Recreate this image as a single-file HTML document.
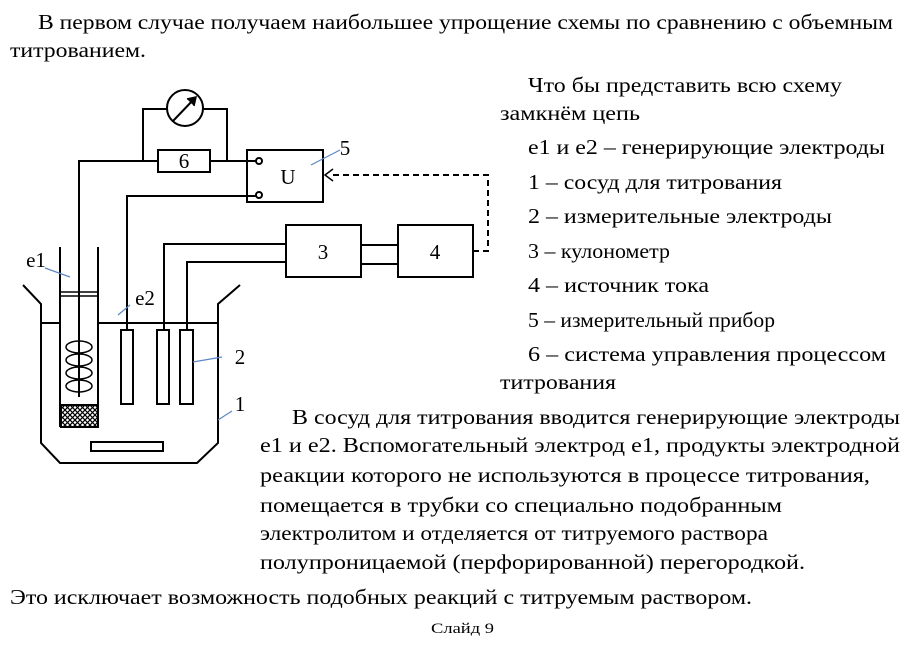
<!DOCTYPE html>
<html><head><meta charset="utf-8"><style>
body{margin:0;width:918px;height:649px;background:#fff;position:relative;overflow:hidden}
svg{position:absolute;left:0;top:0}
</style></head><body>
<svg width="918" height="649" viewBox="0 0 918 649">
<g fill="none" stroke="#000" stroke-width="2">
<circle cx="185" cy="108" r="18"/>
<line x1="173" y1="121" x2="195" y2="98"/>
<polyline points="187,99 196,97 194,106" fill="#000" stroke-width="1.5"/>
<polyline points="167,109 143,109 143,161"/><polyline points="203,109 227,109 227,161"/>
<rect x="158" y="150" width="52" height="22"/>
<polyline points="79,397 79,161 158,161"/>
<line x1="210" y1="161" x2="256" y2="161"/>
<rect x="247" y="150" width="76" height="52"/>
<circle cx="259" cy="161" r="3" fill="#fff"/><circle cx="259" cy="195" r="3" fill="#fff"/>
<polyline points="127,330 127,196 256,196"/>
<rect x="121" y="330" width="12" height="74"/>
<rect x="157" y="330" width="12" height="74"/>
<rect x="180" y="330" width="13" height="74"/>
<polyline points="164,330 164,244 286,244"/>
<polyline points="187,330 187,262 286,262"/>
<rect x="286" y="225" width="75" height="52"/>
<rect x="398" y="225" width="75" height="52"/>
<line x1="361" y1="245" x2="398" y2="245"/><line x1="361" y1="264" x2="398" y2="264"/>
<polyline points="473,251 488,251 488,175 330,175" stroke-dasharray="6,4"/>
<polyline points="333,169 325,175 333,181" stroke-width="1.5"/>
<polyline points="23,285 41,304 41,443 60,463 197,463 218,443 218,304 240,285"/>
<line x1="41" y1="323" x2="59" y2="323"/><line x1="98" y1="323" x2="218" y2="323"/>
<line x1="60" y1="247" x2="60" y2="427"/><line x1="98" y1="247" x2="98" y2="427"/>
<line x1="60" y1="292" x2="98" y2="292" stroke-width="1.5"/><line x1="60" y1="296" x2="98" y2="296" stroke-width="1.5"/>
<rect x="91" y="442" width="72" height="9"/>
<g stroke-width="1.5"><ellipse cx="79" cy="347" rx="13" ry="6"/><ellipse cx="79" cy="360" rx="13" ry="6"/><ellipse cx="79" cy="373" rx="13" ry="6"/><ellipse cx="79" cy="386" rx="13" ry="6"/></g>
</g>
<defs><pattern id="h" width="5" height="5" patternUnits="userSpaceOnUse"><path d="M0 0L5 5M5 0L0 5" stroke="#000" stroke-width="1.2"/></pattern></defs>
<rect x="61" y="405" width="37" height="22" fill="url(#h)" stroke="#000" stroke-width="2"/>
<g stroke="#5b87c5" stroke-width="1.2">
<line x1="45" y1="268" x2="70" y2="277"/><line x1="118" y1="315" x2="130" y2="305"/>
<line x1="193" y1="362" x2="222" y2="357"/><line x1="218" y1="420" x2="232" y2="411"/>
<line x1="311" y1="165" x2="340" y2="150"/>
</g>
<g font-family="Liberation Serif,serif" font-size="21" text-anchor="middle">
<text x="184" y="168">6</text><text x="288" y="184">U</text><text x="323" y="259">3</text><text x="435" y="259">4</text>
<text x="345" y="155">5</text><text x="36" y="267">e1</text><text x="145" y="305">e2</text>
<text x="240" y="364">2</text><text x="240" y="411">1</text>
</g>
<g font-family="Liberation Serif,serif" font-size="21" lengthAdjust="spacingAndGlyphs">
<text x="38" y="29" textLength="855" lengthAdjust="spacingAndGlyphs">В первом случае получаем наибольшее упрощение схемы по сравнению с объемным</text>
<text x="10" y="57" textLength="136" lengthAdjust="spacingAndGlyphs">титрованием.</text>
<text x="528" y="92" textLength="314" lengthAdjust="spacingAndGlyphs">Что бы представить всю схему</text>
<text x="500" y="120" textLength="140" lengthAdjust="spacingAndGlyphs">замкнём цепь</text>
<text x="528" y="154" textLength="357" lengthAdjust="spacingAndGlyphs">e1 и e2 – генерирующие электроды</text>
<text x="528" y="189" textLength="254" lengthAdjust="spacingAndGlyphs">1 – сосуд для титрования</text>
<text x="528" y="223" textLength="304" lengthAdjust="spacingAndGlyphs">2 – измерительные электроды</text>
<text x="528" y="258" textLength="142" lengthAdjust="spacingAndGlyphs">3 – кулонометр</text>
<text x="528" y="292" textLength="181" lengthAdjust="spacingAndGlyphs">4 – источник тока</text>
<text x="528" y="327" textLength="247" lengthAdjust="spacingAndGlyphs">5 – измерительный прибор</text>
<text x="528" y="361" textLength="358" lengthAdjust="spacingAndGlyphs">6 – система управления процессом</text>
<text x="500" y="389" textLength="116" lengthAdjust="spacingAndGlyphs">титрования</text>
<text x="292" y="424" textLength="608" lengthAdjust="spacingAndGlyphs">В сосуд для титрования вводится генерирующие электроды</text>
<text x="260" y="452" textLength="640" lengthAdjust="spacingAndGlyphs">e1 и e2. Вспомогательный электрод e1, продукты электродной</text>
<text x="260" y="482" textLength="610" lengthAdjust="spacingAndGlyphs">реакции которого не используются в процессе титрования,</text>
<text x="260" y="512" textLength="522" lengthAdjust="spacingAndGlyphs">помещается в трубки со специально подобранным</text>
<text x="260" y="540" textLength="508" lengthAdjust="spacingAndGlyphs">электролитом и отделяется от титруемого раствора</text>
<text x="260" y="569" textLength="545" lengthAdjust="spacingAndGlyphs">полупроницаемой (перфорированной) перегородкой.</text>
<text x="10" y="604" textLength="742" lengthAdjust="spacingAndGlyphs">Это исключает возможность подобных реакций с титруемым раствором.</text>
<text x="431" y="633" font-size="15" textLength="63" lengthAdjust="spacingAndGlyphs">Слайд 9</text>
</g>
</svg>
</body></html>
